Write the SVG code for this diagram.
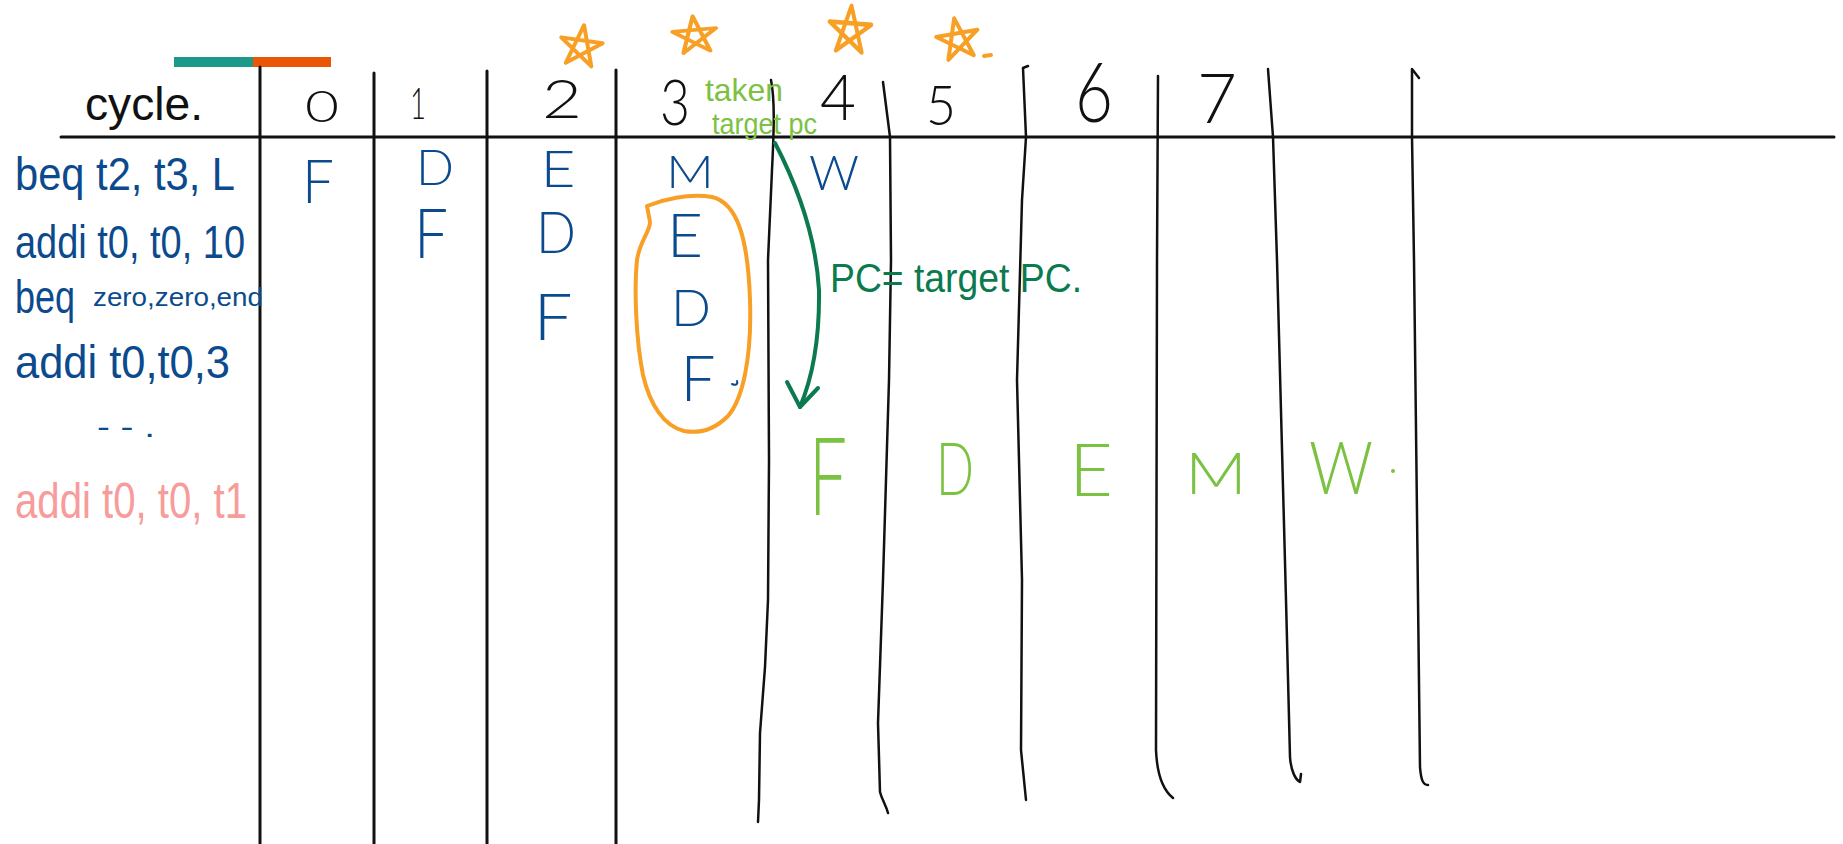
<svg xmlns="http://www.w3.org/2000/svg" xmlns:xlink="http://www.w3.org/1999/xlink" width="1843" height="844" viewBox="0 0 1843 844">
  <style>
    text { font-family: "Liberation Sans", Arial, sans-serif; }
    .lt { font-family: Lato, "Liberation Sans", Arial, sans-serif; font-weight: 300; }
    .ink { fill: none; stroke: #111; stroke-linecap: round; stroke-linejoin: round; }
    .rule { stroke-width: 3; }
    .hand { stroke-width: 2.5; }
    .blk { fill: #111; }
    .blue { fill: #0c4a8e; }
    .lg { fill: #7bc142; }
    .dg { fill: #0b7a4e; }
    .pink { fill: #f79b9b; }
    .star { fill: none; stroke: #f7a025; stroke-width: 4; stroke-linecap: round; stroke-linejoin: round; }
    .arrow { fill: none; stroke: #0b7a4e; stroke-width: 4; stroke-linecap: round; stroke-linejoin: round; }
  </style>
  <defs>
    <!-- pentagram drawn in one stroke -->
    <path id="star" d="M0,-22 L12.9,17.8 L-20.9,-6.8 L20.9,-6.8 L-12.9,17.8 Z"/>
  </defs>

  <rect width="1843" height="844" fill="#ffffff"/>

  <!-- colour tab above the label column -->
  <g id="tab">
    <rect x="174" y="57" width="79" height="10" fill="#1b9a8a"/>
    <rect x="253" y="57" width="78" height="10" fill="#ea5506"/>
  </g>

  <!-- table rules -->
  <g id="grid">
    <path class="ink rule" d="M61,137 L1834,137"/>
    <path class="ink rule" d="M260,67 L260,844"/>
    <path class="ink rule" d="M374,73 L374,844"/>
    <path class="ink rule" d="M487,71 L487,844"/>
    <path class="ink rule" d="M616,70 L616,844"/>
    <path class="ink hand" d="M771,80 C775,100 774,130 772,170 L768,260 L769,460 L768,600 L765,667 L760,733 L759,800 L758,822"/>
    <path class="ink hand" d="M883,82 L890,137 L891,260 L889,380 L883,580 L878,723 L880,792 C882,800 886,805 888,813"/>
    <path class="ink hand" d="M1028,66 L1023,68 L1026,137 L1022,200 L1017,380 L1022,580 L1021,750 L1026,800"/>
    <path class="ink hand" d="M1158,76 L1157,260 L1156,750 C1157,775 1163,790 1173,798"/>
    <path class="ink hand" d="M1268,69 L1273,137 L1277,260 L1286,600 L1290,757 C1291,772 1296,780 1300,782 L1301,774"/>
    <path class="ink hand" d="M1419,78 L1412,69 L1412,137 L1414,260 L1420,767 C1421,780 1423,785 1428,785"/>
  </g>

  <!-- header row -->
  <g id="header">
    <text class="blk" x="85" y="120" font-size="46" textLength="118" lengthAdjust="spacingAndGlyphs">cycle.</text>
    <text class="blk lt" x="322" y="122" font-size="44" text-anchor="middle" textLength="34" lengthAdjust="spacingAndGlyphs">0</text>
    <text class="blk lt" x="418" y="119" font-size="44" text-anchor="middle" textLength="16" lengthAdjust="spacingAndGlyphs">1</text>
    <text class="blk lt" x="562" y="118" font-size="54" text-anchor="middle" textLength="40" lengthAdjust="spacingAndGlyphs">2</text>
    <text class="blk lt" x="675" y="125" font-size="64" text-anchor="middle" textLength="30" lengthAdjust="spacingAndGlyphs">3</text>
    <text class="blk lt" x="838" y="120" font-size="64" text-anchor="middle" textLength="36" lengthAdjust="spacingAndGlyphs">4</text>
    <text class="blk lt" x="941" y="125" font-size="56" text-anchor="middle" textLength="30" lengthAdjust="spacingAndGlyphs">5</text>
    <text class="blk lt" x="1094" y="122" font-size="82" text-anchor="middle" textLength="38" lengthAdjust="spacingAndGlyphs">6</text>
    <text class="blk lt" x="1217" y="123" font-size="68" text-anchor="middle" textLength="40" lengthAdjust="spacingAndGlyphs">7</text>
  </g>

  <!-- stars over cycles 2..5 -->
  <g id="stars">
    <use xlink:href="#star" class="star" transform="translate(581,47) rotate(8)"/>
    <use xlink:href="#star" class="star" transform="translate(695,36) scale(1.05,0.9) rotate(-6)"/>
    <use xlink:href="#star" class="star" transform="translate(850,31) scale(1,1.15) rotate(4)"/>
    <use xlink:href="#star" class="star" transform="translate(958,40) rotate(-10)"/>
    <path class="star" stroke-width="2" d="M984,56 L991,55"/>
  </g>

  <!-- instruction column -->
  <g id="instructions">
    <text class="blue" x="15" y="190" font-size="46" textLength="220" lengthAdjust="spacingAndGlyphs">beq t2, t3, L</text>
    <text class="blue" x="15" y="258" font-size="46" textLength="230" lengthAdjust="spacingAndGlyphs">addi t0, t0, 10</text>
    <text class="blue" x="15" y="313" font-size="46" textLength="60" lengthAdjust="spacingAndGlyphs">beq</text>
    <text class="blue" x="93" y="306" font-size="26" textLength="170" lengthAdjust="spacingAndGlyphs">zero,zero,end</text>
    <text class="blue" x="15" y="378" font-size="46" textLength="215" lengthAdjust="spacingAndGlyphs">addi t0,t0,3</text>
    <text class="blue" x="97" y="437" font-size="30" textLength="58" lengthAdjust="spacingAndGlyphs">- - .</text>
    <text class="pink" x="15" y="518" font-size="50" textLength="232" lengthAdjust="spacingAndGlyphs">addi t0, t0, t1</text>
  </g>

  <!-- pipeline stages per cycle -->
  <g id="stages">
    <text class="blue lt" x="318" y="203" font-size="62" text-anchor="middle" textLength="32" lengthAdjust="spacingAndGlyphs">F</text>
    <text class="blue lt" x="435" y="185" font-size="49" text-anchor="middle" textLength="38" lengthAdjust="spacingAndGlyphs">D</text>
    <text class="blue lt" x="558" y="187" font-size="51" text-anchor="middle" textLength="35" lengthAdjust="spacingAndGlyphs">E</text>
    <text class="blue lt" x="690" y="188" font-size="46" text-anchor="middle" textLength="48" lengthAdjust="spacingAndGlyphs">M</text>
    <text class="blue lt" x="834" y="190" font-size="48" text-anchor="middle" textLength="50" lengthAdjust="spacingAndGlyphs">W</text>

    <text class="blue lt" x="431" y="258" font-size="69" text-anchor="middle" textLength="34" lengthAdjust="spacingAndGlyphs">F</text>
    <text class="blue lt" x="556" y="253" font-size="57" text-anchor="middle" textLength="40" lengthAdjust="spacingAndGlyphs">D</text>
    <text class="blue lt" x="685" y="257" font-size="61" text-anchor="middle" textLength="36" lengthAdjust="spacingAndGlyphs">E</text>

    <text class="blue lt" x="553" y="340" font-size="66" text-anchor="middle" textLength="39" lengthAdjust="spacingAndGlyphs">F</text>
    <text class="blue lt" x="691" y="326" font-size="52" text-anchor="middle" textLength="40" lengthAdjust="spacingAndGlyphs">D</text>

    <text class="blue lt" x="698" y="401" font-size="64" text-anchor="middle" textLength="35" lengthAdjust="spacingAndGlyphs">F</text>
    <path d="M732,384 C736,386 738,384 737,381" fill="none" stroke="#0c4a8e" stroke-width="2" stroke-linecap="round"/>

    <text class="lg lt" x="828" y="515" font-size="108" text-anchor="middle" textLength="38" lengthAdjust="spacingAndGlyphs">F</text>
    <text class="lg lt" x="955" y="495" font-size="72" text-anchor="middle" textLength="38" lengthAdjust="spacingAndGlyphs">D</text>
    <text class="lg lt" x="1091" y="496" font-size="72" text-anchor="middle" textLength="44" lengthAdjust="spacingAndGlyphs">E</text>
    <text class="lg lt" x="1216" y="494" font-size="58" text-anchor="middle" textLength="62" lengthAdjust="spacingAndGlyphs">M</text>
    <text class="lg lt" x="1341" y="494" font-size="73" text-anchor="middle" textLength="64" lengthAdjust="spacingAndGlyphs">W</text>
    <circle cx="1393" cy="471" r="2" fill="#7bc142"/>
  </g>

  <!-- annotations -->
  <g id="annotations">
    <path id="flush-ring" d="M650,222 L647,206 C662,200 688,193 712,197 C738,203 748,240 750,300 C752,360 742,400 728,416 C714,430 700,434 684,431 C664,426 650,405 643,375 C636,340 634,290 637,260 C640,240 650,232 650,222"
          fill="none" stroke="#f7a025" stroke-width="4" stroke-linecap="round" stroke-linejoin="round"/>
    <text class="lg" x="705" y="101" font-size="32" textLength="78" lengthAdjust="spacingAndGlyphs">taken</text>
    <text class="lg" x="712" y="134" font-size="30" textLength="105" lengthAdjust="spacingAndGlyphs">target pc</text>
    <text class="dg" x="830" y="292" font-size="40" textLength="252" lengthAdjust="spacingAndGlyphs">PC= target PC.</text>
  </g>

  <!-- redirect arrow -->
  <g id="connectors">
    <path class="arrow" d="M775,143 Q815,220 819,290 Q820,360 800,407"/>
    <path class="arrow" d="M787,382 L800,407 L818,388"/>
  </g>
</svg>
